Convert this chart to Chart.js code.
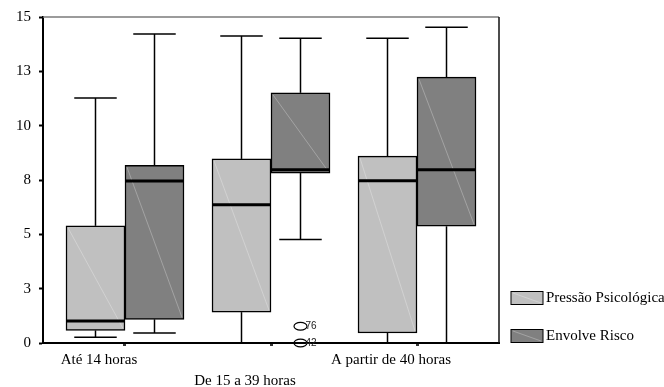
<!DOCTYPE html>
<html>
<head>
<meta charset="utf-8">
<script src="https://cdn.jsdelivr.net/npm/chart.js@4.4.0/dist/chart.umd.min.js"></script>
<style>
  html, body { margin: 0; padding: 0; background: #fff; }
  #wrap { width: 664px; height: 387px; }
</style>
</head>
<body>
<div id="wrap"><canvas id="boxChart" width="664" height="387"></canvas></div>
<script>
const groups = ["Até 14 horas", "De 15 a 39 horas", "A partir de 40 horas"];
const seriesNames = ["Pressão Psicológica", "Envolve Risco"];
const seriesColors = ["#c0c0c0", "#808080"];

// five-number summaries, one entry per group
const pressaoMin = [0.26, 0, 0];
const pressaoQ1 = [0.58, 1.42, 0.46];
const pressaoMedian = [1.01, 6.36, 7.46];
const pressaoQ3 = [5.39, 8.47, 8.6];
const pressaoMax = [11.27, 14.13, 14.02];

const riscoMin = [0.46, 4.76, 0];
const riscoQ1 = [1.09, 7.82, 5.37];
const riscoMedian = [7.45, 7.97, 7.97];
const riscoQ3 = [8.18, 11.51, 12.23];
const riscoMax = [14.22, 14.02, 14.53];

// outlying cases (group index, value, case number)
const riscoOutliers = [
  { group: 1, value: 0.77, id: "76" },
  { group: 1, value: 0, id: "42" }
];

const summaries = [
  { min: pressaoMin, q1: pressaoQ1, med: pressaoMedian, q3: pressaoQ3, max: pressaoMax, out: [] },
  { min: riscoMin, q1: riscoQ1, med: riscoMedian, q3: riscoQ3, max: riscoMax, out: riscoOutliers }
];

Chart.defaults.font.family = "'Liberation Serif', 'Times New Roman', serif";
Chart.defaults.font.size = 15;
Chart.defaults.color = "#000";

function strokeLine(ctx, x1, y1, x2, y2) {
  ctx.beginPath();
  ctx.moveTo(x1, y1);
  ctx.lineTo(x2, y2);
  ctx.stroke();
}

// whiskers, medians, outliers, frame and legend on top of the floating bars
const boxExtras = {
  id: "boxExtras",
  afterDatasetsDraw(chart) {
    const ctx = chart.ctx;
    const y = chart.scales.y;
    const area = chart.chartArea;
    ctx.save();

    // frame: top and right sides
    ctx.lineWidth = 1.5;
    ctx.strokeStyle = "#7a7a7a";
    strokeLine(ctx, area.left, area.top, area.right, area.top);
    ctx.strokeStyle = "#111";
    strokeLine(ctx, area.right, area.top, area.right, area.bottom);

    chart.data.datasets.forEach((ds, di) => {
      const meta = chart.getDatasetMeta(di);
      const s = summaries[di];
      meta.data.forEach((bar, gi) => {
        const half = bar.width / 2;
        const left = bar.x - half;
        const right = bar.x + half;
        const top = y.getPixelForValue(s.q3[gi]);
        const bottom = y.getPixelForValue(s.q1[gi]);
        const cap = bar.width * 0.36;

        // faint diagonal inside the box
        ctx.strokeStyle = "rgba(255,255,255,0.35)";
        ctx.lineWidth = 0.8;
        strokeLine(ctx, left + 2, top + 2, right - 2, bottom - 2);

        // whiskers
        ctx.strokeStyle = "#000";
        ctx.lineWidth = 1.5;
        const yMax = y.getPixelForValue(s.max[gi]);
        const yMin = y.getPixelForValue(s.min[gi]);
        strokeLine(ctx, bar.x, top, bar.x, yMax);
        strokeLine(ctx, bar.x - cap, yMax, bar.x + cap, yMax);
        strokeLine(ctx, bar.x, bottom, bar.x, yMin);
        strokeLine(ctx, bar.x - cap, yMin, bar.x + cap, yMin);

        // median
        ctx.lineWidth = 3;
        const yMed = y.getPixelForValue(s.med[gi]);
        strokeLine(ctx, left, yMed, right, yMed);
      });

      // outliers
      s.out.forEach(o => {
        const bar = meta.data[o.group];
        const py = y.getPixelForValue(o.value);
        ctx.lineWidth = 1.2;
        ctx.strokeStyle = "#000";
        ctx.beginPath();
        ctx.ellipse(bar.x, py, 6.5, 3.8, 0, 0, Math.PI * 2);
        ctx.stroke();
        ctx.fillStyle = "#222";
        ctx.font = "10px 'Liberation Sans', Arial, sans-serif";
        ctx.textAlign = "left";
        ctx.textBaseline = "middle";
        ctx.fillText(o.id, bar.x + 5, py);
      });
    });

    // legend
    const legendX = area.right + 12;
    const rows = [298, 336];
    chart.data.datasets.forEach((ds, di) => {
      const cy = rows[di];
      ctx.fillStyle = ds.backgroundColor;
      ctx.fillRect(legendX, cy - 6.5, 32, 13);
      ctx.strokeStyle = "rgba(255,255,255,0.35)";
      ctx.lineWidth = 0.8;
      strokeLine(ctx, legendX + 2, cy - 5, legendX + 30, cy + 5);
      ctx.strokeStyle = "#000";
      ctx.lineWidth = 1;
      ctx.strokeRect(legendX, cy - 6.5, 32, 13);
      ctx.fillStyle = "#000";
      ctx.font = "15px 'Liberation Serif', 'Times New Roman', serif";
      ctx.textAlign = "left";
      ctx.textBaseline = "middle";
      ctx.fillText(ds.label, legendX + 35, cy);
    });

    ctx.restore();
  }
};

const datasets = summaries.map((s, di) => ({
  label: seriesNames[di],
  data: groups.map((g, gi) => ({ x: gi, y: [s.q1[gi], s.q3[gi]] })),
  backgroundColor: seriesColors[di],
  borderColor: "#000",
  borderWidth: 1.5,
  borderSkipped: false,
  barThickness: 59
}));

new Chart(document.getElementById("boxChart"), {
  type: "bar",
  data: { datasets },
  options: {
    responsive: false,
    animation: false,
    layout: { padding: { top: 16, right: 165, left: 0, bottom: 0 } },
    plugins: { legend: { display: false }, tooltip: { enabled: false } },
    scales: {
      x: {
        type: "linear",
        min: -0.5616,
        max: 2.5616,
        offset: false,
        afterBuildTicks: axis => { axis.ticks = groups.map((g, i) => ({ value: i })); },
        afterFit: axis => { axis.height = 44; },
        ticks: {
          padding: 4,
          labelOffset: -26,
          maxRotation: 0,
          autoSkip: false,
          font: { lineHeight: 1.4 },
          callback: value => (value % 2 === 1 ? ["", groups[value]] : groups[value])
        },
        grid: { drawOnChartArea: false, offset: false, tickLength: 3, tickWidth: 3, tickColor: "#333" },
        border: { color: "#000", width: 2 }
      },
      y: {
        min: 0,
        max: 15,
        afterFit: axis => { axis.width = 43; },
        ticks: { stepSize: 2.5, padding: 8, callback: v => Math.round(v) },
        grid: { drawOnChartArea: false, tickLength: 4, tickWidth: 2, tickColor: "#000" },
        border: { color: "#000", width: 2 }
      }
    }
  },
  plugins: [boxExtras]
});
</script>
</body>
</html>
